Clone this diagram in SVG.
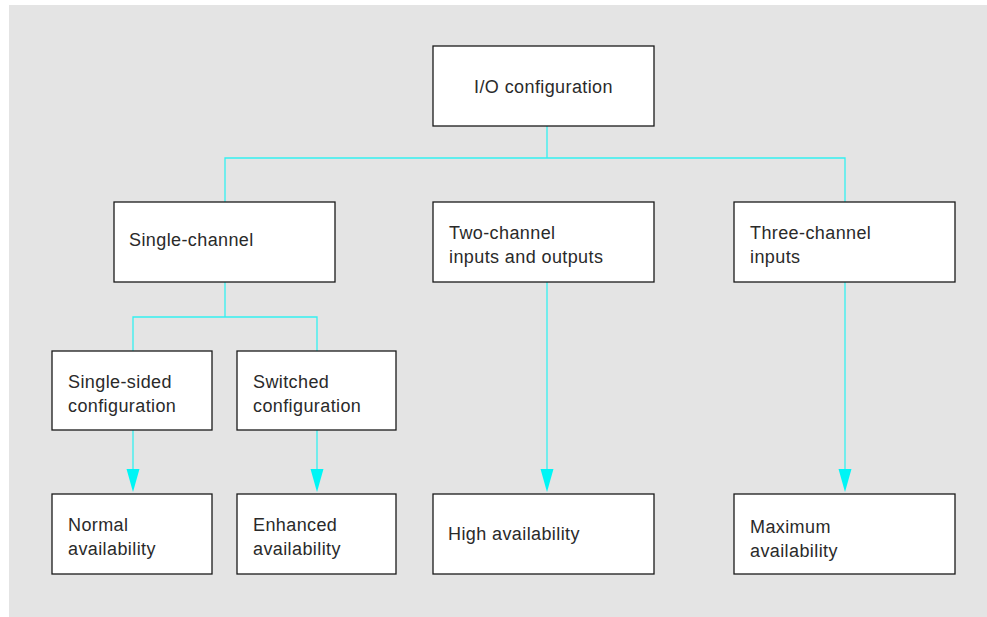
<svg xmlns="http://www.w3.org/2000/svg" width="987" height="617" viewBox="0 0 987 617">
<defs>
<style>
.box{fill:#fff;stroke:#1a1a1a;stroke-width:1.3}
.t{font-family:"Liberation Sans",Arial,Helvetica,sans-serif;font-size:18px;letter-spacing:0.4px;fill:#2a2a2a}
.c{fill:none;stroke:#33f0f0;stroke-width:1.3}
.ah{fill:#00f5f5}
</style>
</defs>
<rect x="0" y="0" width="987" height="617" fill="#fff"/>
<rect x="9" y="5" width="978" height="612" fill="#e4e4e4"/>
<g id="connectors">
<path class="c" d="M547,126 V158 M225,202 V158 H845 V202"/>
<path class="c" d="M225,282 V317 M133,351 V317 H317 V351"/>
<line class="c" x1="133" y1="430" x2="133" y2="469"/>
<path class="ah" d="M126.5,469 L139.5,469 L133,492 Z"/>
<line class="c" x1="317" y1="430" x2="317" y2="469"/>
<path class="ah" d="M310.5,469 L323.5,469 L317,492 Z"/>
<line class="c" x1="547" y1="282" x2="547" y2="469"/>
<path class="ah" d="M540.5,469 L553.5,469 L547,492 Z"/>
<line class="c" x1="845" y1="282" x2="845" y2="469"/>
<path class="ah" d="M838.5,469 L851.5,469 L845,492 Z"/>
</g>
<g id="io">
<rect class="box" x="433" y="46" width="221" height="80"/>
<text class="t" x="543.5" y="93" text-anchor="middle">I/O configuration</text>
</g>
<g id="single">
<rect class="box" x="114" y="202" width="221" height="80"/>
<text class="t" x="129" y="246">Single-channel</text>
</g>
<g id="two">
<rect class="box" x="433" y="202" width="221" height="80"/>
<text class="t" x="449" y="239">Two-channel</text>
<text class="t" x="449" y="263">inputs and outputs</text>
</g>
<g id="three">
<rect class="box" x="734" y="202" width="221" height="80"/>
<text class="t" x="750" y="239">Three-channel</text>
<text class="t" x="750" y="263">inputs</text>
</g>
<g id="singlesided">
<rect class="box" x="52" y="351" width="160" height="79"/>
<text class="t" x="68" y="388">Single-sided</text>
<text class="t" x="68" y="412">configuration</text>
</g>
<g id="switched">
<rect class="box" x="237" y="351" width="159" height="79"/>
<text class="t" x="253" y="388">Switched</text>
<text class="t" x="253" y="412">configuration</text>
</g>
<g id="normal">
<rect class="box" x="52" y="494" width="160" height="80"/>
<text class="t" x="68" y="531">Normal</text>
<text class="t" x="68" y="555">availability</text>
</g>
<g id="enhanced">
<rect class="box" x="237" y="494" width="159" height="80"/>
<text class="t" x="253" y="531">Enhanced</text>
<text class="t" x="253" y="555">availability</text>
</g>
<g id="high">
<rect class="box" x="433" y="494" width="221" height="80"/>
<text class="t" x="448" y="540">High availability</text>
</g>
<g id="maximum">
<rect class="box" x="734" y="494" width="221" height="80"/>
<text class="t" x="750" y="533">Maximum</text>
<text class="t" x="750" y="557">availability</text>
</g>
</svg>
